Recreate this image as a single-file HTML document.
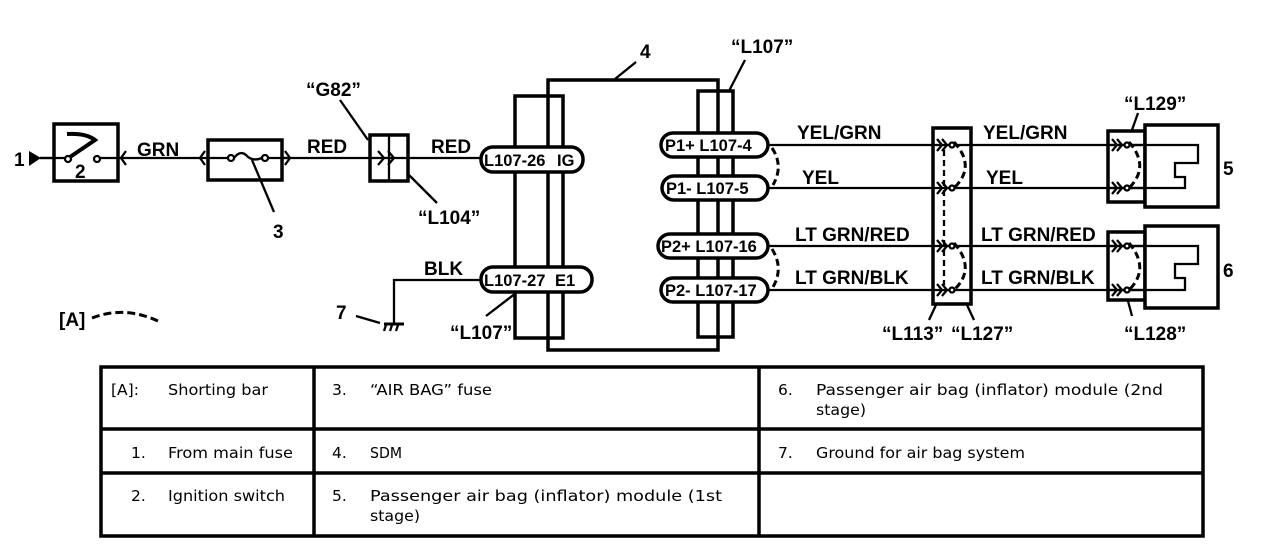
<!DOCTYPE html>
<html><head><meta charset="utf-8"><style>
html,body{margin:0;padding:0;background:#fff;}
svg{display:block;}
.l{font-family:"Liberation Sans",sans-serif;font-weight:bold;font-size:19px;fill:#000;}
.p{font-family:"Liberation Sans",sans-serif;font-weight:bold;font-size:16.5px;fill:#000;}
.t{font-family:"DejaVu Sans","Liberation Sans",sans-serif;font-size:15.5px;fill:#000;}
</style></head><body>
<svg width="1280" height="560" viewBox="0 0 1280 560" xmlns="http://www.w3.org/2000/svg">
<g fill="none" stroke="#000" stroke-width="2.3">
<line x1="40" y1="158" x2="482" y2="158"/>
<polygon points="29,151 29,166 41,158" fill="#000" stroke="none"/>
<rect x="54" y="124" width="64" height="57" stroke-width="3.5" fill="#fff"/>
<line x1="97" y1="158" x2="118" y2="158"/>
<line x1="40" y1="158" x2="65" y2="158"/>
<circle cx="68" cy="159" r="3" fill="#fff"/>
<circle cx="97" cy="159" r="3" fill="#fff"/>
<path d="M70,157 L95,140 Q86,133 67,134" stroke-width="4"/>
<polyline points="126,151 121,158 126,165"/>
<polyline points="205,151 200,158 205,165"/>
<rect x="208" y="140" width="74" height="40" stroke-width="3.5" fill="#fff"/>
<line x1="208" y1="158" x2="228" y2="158"/>
<line x1="268" y1="158" x2="290" y2="158"/>
<circle cx="231" cy="158" r="3" fill="#fff"/>
<circle cx="265" cy="158" r="3" fill="#fff"/>
<path d="M234,158 Q240,150 246,155 Q252,162 262,158"/>
<polyline points="285,151 290,158 285,165"/>
<line x1="252" y1="160" x2="274" y2="212"/>
<rect x="370" y="135" width="38" height="46" stroke-width="3.5" fill="#fff"/>
<line x1="370" y1="158" x2="408" y2="158"/>
<line x1="389" y1="135" x2="389" y2="181"/>
<polyline points="378,151 384,158 378,165"/>
<polyline points="388,151 394,158 388,165"/>
<line x1="340" y1="100" x2="368" y2="140"/>
<line x1="409" y1="175" x2="437" y2="203"/>
<rect x="548" y="80" width="170" height="270" stroke-width="3.5"/>
<rect x="515" y="96" width="48" height="242" stroke-width="3.5"/>
<rect x="698" y="91" width="35" height="246" stroke-width="3.5"/>
<line x1="615" y1="79" x2="636" y2="62"/>
<line x1="729" y1="91" x2="745" y2="60"/>
<rect x="481" y="147" width="102" height="25" rx="12" stroke-width="3.5" fill="#fff"/>
<rect x="481" y="267" width="111" height="25" rx="12" stroke-width="3.5" fill="#fff"/>
<polyline points="482,280 394,280 394,324"/>
<line x1="384" y1="324" x2="404" y2="324" stroke-width="3"/>
<line x1="386" y1="325" x2="384" y2="331"/><line x1="392" y1="325" x2="390" y2="331"/><line x1="398" y1="325" x2="396" y2="331"/>
<line x1="356" y1="316" x2="380" y2="323"/>
<line x1="486" y1="316" x2="516" y2="293"/>
<line x1="768" y1="145" x2="1198" y2="145"/>
<line x1="768" y1="188" x2="1185" y2="188"/>
<line x1="768" y1="246" x2="1198" y2="246"/>
<line x1="768" y1="290" x2="1185" y2="290"/>
<rect x="661" y="133" width="107" height="24" rx="12" stroke-width="3.5" fill="#fff"/>
<rect x="662" y="176" width="106" height="24" rx="12" stroke-width="3.5" fill="#fff"/>
<rect x="658" y="234" width="110" height="24" rx="12" stroke-width="3.5" fill="#fff"/>
<rect x="661" y="278" width="107" height="24" rx="12" stroke-width="3.5" fill="#fff"/>
<path d="M772,148 Q784,166 773,185" stroke-width="3" stroke-dasharray="7,4"/>
<path d="M772,249 Q784,268 773,287" stroke-width="3" stroke-dasharray="7,4"/>
<rect x="933" y="128" width="38" height="176" stroke-width="3.5"/>
<line x1="944" y1="150" x2="944" y2="285" stroke-dasharray="6,4"/>
<g id="ch">
<polyline points="937,139 942,145 937,151"/>
<polyline points="942,139 947,145 942,151"/>
<circle cx="952" cy="145" r="2.5" fill="#fff"/>
</g>
<use href="#ch" y="43"/>
<use href="#ch" y="101"/>
<use href="#ch" y="145"/>
<path d="M954,142 Q976,166 955,187" stroke-width="3" stroke-dasharray="7,4"/>
<path d="M954,243 Q976,268 955,289" stroke-width="3" stroke-dasharray="7,4"/>
<line x1="936" y1="305" x2="929" y2="320"/>
<line x1="967" y1="305" x2="974" y2="320"/>
<rect x="1108" y="131" width="37" height="71" stroke-width="3.5"/>
<rect x="1145" y="125" width="73" height="82" stroke-width="3.5" fill="#fff"/>
<line x1="1108" y1="145" x2="1145" y2="145"/>
<line x1="1108" y1="188" x2="1145" y2="188"/>
<polyline points="1145,145 1198,145 1198,163 1175,163 1175,177 1185,177 1185,188 1145,188"/>
<use href="#ch" x="175"/>
<use href="#ch" x="175" y="43"/>
<path d="M1129,142 Q1150,166 1130,187" stroke-width="3" stroke-dasharray="7,4"/>
<line x1="1132" y1="130" x2="1138" y2="113"/>
<rect x="1108" y="232" width="37" height="68" stroke-width="3.5"/>
<rect x="1145" y="226" width="73" height="82" stroke-width="3.5" fill="#fff"/>
<line x1="1108" y1="246" x2="1145" y2="246"/>
<line x1="1108" y1="290" x2="1145" y2="290"/>
<polyline points="1145,246 1198,246 1198,264 1175,264 1175,278 1185,278 1185,290 1145,290"/>
<use href="#ch" x="175" y="101"/>
<use href="#ch" x="175" y="145"/>
<path d="M1129,243 Q1150,268 1130,289" stroke-width="3" stroke-dasharray="7,4"/>
<line x1="1128" y1="301" x2="1132" y2="316"/>
<path d="M92,318 Q125,305 160,322" stroke-width="3" stroke-dasharray="8,4"/>
<rect x="101" y="367" width="1102" height="169" stroke-width="3.5"/>
<line x1="314" y1="367" x2="314" y2="536" stroke-width="3.5"/>
<line x1="759" y1="367" x2="759" y2="536" stroke-width="3.5"/>
<line x1="101" y1="429" x2="1203" y2="429" stroke-width="3.5"/>
<line x1="101" y1="473" x2="1203" y2="473" stroke-width="3.5"/>
</g>
<g class="l">
<text x="14" y="166">1</text>
<text x="75" y="178">2</text>
<text x="137" y="156">GRN</text>
<text x="273" y="238">3</text>
<text x="307" y="153">RED</text>
<text x="431" y="153">RED</text>
<text x="306" y="96">“G82”</text>
<text x="418" y="224">“L104”</text>
<text x="424" y="275">BLK</text>
<text x="336" y="319">7</text>
<text x="450" y="339">“L107”</text>
<text x="640" y="58">4</text>
<text x="731" y="53">“L107”</text>
<text x="797" y="139">YEL/GRN</text>
<text x="802" y="184">YEL</text>
<text x="795" y="241">LT GRN/RED</text>
<text x="795" y="284">LT GRN/BLK</text>
<text x="983" y="139">YEL/GRN</text>
<text x="986" y="184">YEL</text>
<text x="981" y="241">LT GRN/RED</text>
<text x="981" y="284">LT GRN/BLK</text>
<text x="1223" y="175">5</text>
<text x="1223" y="277">6</text>
<text x="1124" y="110">“L129”</text>
<text x="1124" y="340">“L128”</text>
<text x="882" y="340">“L113”</text>
<text x="951" y="340">“L127”</text>
<text x="59" y="326">[A]</text>
</g>
<g class="p">
<text x="484" y="166">L107-26</text><text x="557" y="166">IG</text>
<text x="484" y="286">L107-27</text><text x="555" y="286">E1</text>
<text x="665" y="151">P1+ L107-4</text>
<text x="666" y="194">P1-  L107-5</text>
<text x="661" y="252">P2+ L107-16</text>
<text x="665" y="296">P2- L107-17</text>
</g>
<g class="t">
<text x="111" y="395">[A]:</text><text x="168" y="395" textLength="100" lengthAdjust="spacingAndGlyphs">Shorting bar</text>
<text x="332" y="395">3.</text><text x="370" y="395" textLength="122" lengthAdjust="spacingAndGlyphs">“AIR BAG” fuse</text>
<text x="778" y="395">6.</text><text x="816" y="395" textLength="347" lengthAdjust="spacingAndGlyphs">Passenger air bag (inflator) module (2nd</text>
<text x="816" y="415" textLength="50" lengthAdjust="spacingAndGlyphs">stage)</text>
<text x="131" y="458">1.</text><text x="168" y="458" textLength="125" lengthAdjust="spacingAndGlyphs">From main fuse</text>
<text x="332" y="458">4.</text><text x="370" y="458" textLength="32" lengthAdjust="spacingAndGlyphs">SDM</text>
<text x="778" y="458">7.</text><text x="816" y="458" textLength="209" lengthAdjust="spacingAndGlyphs">Ground for air bag system</text>
<text x="131" y="501">2.</text><text x="168" y="501" textLength="117" lengthAdjust="spacingAndGlyphs">Ignition switch</text>
<text x="332" y="501">5.</text><text x="370" y="501" textLength="352" lengthAdjust="spacingAndGlyphs">Passenger air bag (inflator) module (1st</text>
<text x="370" y="521" textLength="50" lengthAdjust="spacingAndGlyphs">stage)</text>
</g>
</svg>
</body></html>
